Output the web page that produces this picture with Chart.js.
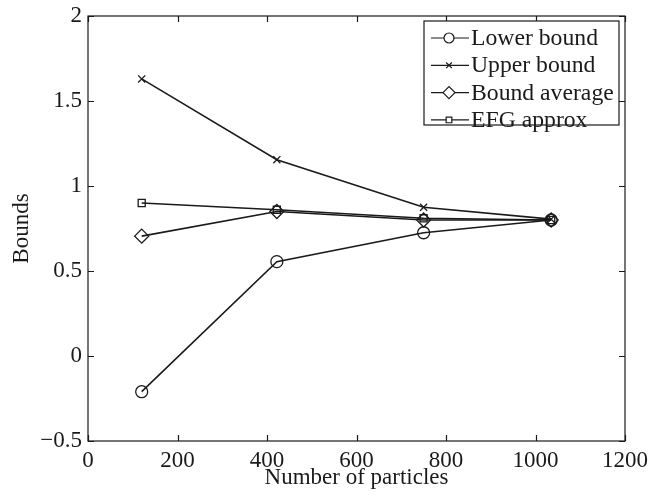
<!DOCTYPE html>
<html>
<head>
<meta charset="utf-8">
<script src="https://cdn.jsdelivr.net/npm/chart.js@4.4.1/dist/chart.umd.min.js"></script>
<style>
  html, body { margin: 0; padding: 0; background: #fff; }
  #wrap { width: 651px; height: 495px; }
</style>
</head>
<body>
<div id="wrap"><canvas id="boundsChart"></canvas></div>
<script>
// data
const particles    = [120, 422, 750, 1035];
const lowerBound   = [-0.21, 0.555, 0.725, 0.80];
const upperBound   = [1.63, 1.155, 0.875, 0.805];
const boundAverage = [0.705, 0.85, 0.80, 0.80];
const efgApprox    = [0.90, 0.86, 0.81, 0.80];
const xTicks = [0, 200, 400, 600, 800, 1000, 1200];
const yTicks = [-0.5, 0, 0.5, 1, 1.5, 2];

const INK   = '#1a1a1a';
const SERIF = '"Liberation Serif", "DejaVu Serif", serif';

const series = [
  { label: 'Lower bound',   data: lowerBound,   style: 'circle',   r: 6 },
  { label: 'Upper bound',   data: upperBound,   style: 'crossRot', r: 5 },
  { label: 'Bound average', data: boundAverage, style: 'rectRot',  r: 7 },
  { label: 'EFG approx',    data: efgApprox,    style: 'rect',     r: 5 },
];

const fmt = v => (v < 0 ? '\u2212' + Math.abs(v) : String(v));

// ── box frame, inward ticks on all sides, matlab style legend ──
const matlabFrame = {
  id: 'matlabFrame',
  afterDraw(chart) {
    const { ctx, chartArea: a, scales } = chart;
    const len = 6;
    ctx.save();
    ctx.strokeStyle = INK;
    ctx.lineWidth = 1.2;
    ctx.strokeRect(a.left, a.top, a.right - a.left, a.bottom - a.top);
    ctx.beginPath();
    xTicks.forEach(v => {
      const x = Math.round(scales.x.getPixelForValue(v)) + 0.5;
      ctx.moveTo(x, a.bottom); ctx.lineTo(x, a.bottom - len);
      ctx.moveTo(x, a.top);    ctx.lineTo(x, a.top + len);
    });
    yTicks.forEach(v => {
      const y = Math.round(scales.y.getPixelForValue(v)) + 0.5;
      ctx.moveTo(a.left, y);  ctx.lineTo(a.left + len, y);
      ctx.moveTo(a.right, y); ctx.lineTo(a.right - len, y);
    });
    ctx.stroke();

    // legend
    const bx = 424, by = 21, bw = 195, bh = 104, row = 27.3;
    ctx.fillStyle = '#fff';
    ctx.fillRect(bx, by, bw, bh);
    ctx.strokeRect(bx, by, bw, bh);
    ctx.font = '23px ' + SERIF;
    ctx.textBaseline = 'middle';
    series.forEach((s, i) => {
      const y = by + 17 + i * row;
      ctx.beginPath();
      ctx.moveTo(bx + 7, y); ctx.lineTo(bx + 45, y);
      ctx.lineWidth = 1.2;
      ctx.stroke();
      ctx.fillStyle = '#fff';
      Chart.helpers.drawPoint(ctx, { pointStyle: s.style, radius: s.r - 1, borderWidth: 1.2 }, bx + 25, y);
      ctx.fillStyle = INK;
      ctx.save();
      ctx.translate(bx + 47, y + 1);
      ctx.scale(1.03, 1);
      ctx.fillText(s.label, 0, 0);
      ctx.restore();
    });
    ctx.restore();
  }
};

new Chart(document.getElementById('boundsChart'), {
  type: 'line',
  data: {
    datasets: series.map(s => ({
      label: s.label,
      data: s.data.map((v, i) => ({ x: particles[i], y: v })),
      borderColor: INK,
      borderWidth: 1.6,
      pointStyle: s.style,
      pointRadius: s.r,
      pointBorderColor: INK,
      pointBorderWidth: 1.3,
      pointBackgroundColor: 'rgba(0,0,0,0)',
      tension: 0,
    })),
  },
  options: {
    responsive: true, maintainAspectRatio: false, animation: false,
    layout: { padding: { top: 16, right: 26, left: 0, bottom: 0 } },
    plugins: { legend: { display: false }, tooltip: { enabled: false } },
    scales: {
      x: {
        type: 'linear', min: 0, max: 1200,
        grid: { display: false, drawTicks: false }, border: { display: false },
        afterBuildTicks: s => { s.ticks = xTicks.map(v => ({ value: v })); },
        afterFit: s => { s.height = 54; s.paddingLeft = 0; s.paddingRight = 0; },
        ticks: { color: INK, padding: 6, maxRotation: 0, font: { family: SERIF, size: 23 }, callback: fmt },
        title: { display: true, text: 'Number of particles', color: INK, padding: { top: 0, bottom: 3 },
                 font: { family: SERIF, size: 23 } },
      },
      y: {
        min: -0.5, max: 2,
        grid: { display: false, drawTicks: false }, border: { display: false },
        afterBuildTicks: s => { s.ticks = yTicks.map(v => ({ value: v })); },
        afterFit: s => { s.width = 88; s.paddingTop = 0; s.paddingBottom = 0; },
        ticks: { color: INK, padding: 6, font: { family: SERIF, size: 23 }, callback: fmt },
        title: { display: true, text: 'Bounds', color: INK, padding: { top: 8, bottom: 0 },
                 font: { family: SERIF, size: 23 } },
      },
    },
  },
  plugins: [matlabFrame],
});
</script>
</body>
</html>
